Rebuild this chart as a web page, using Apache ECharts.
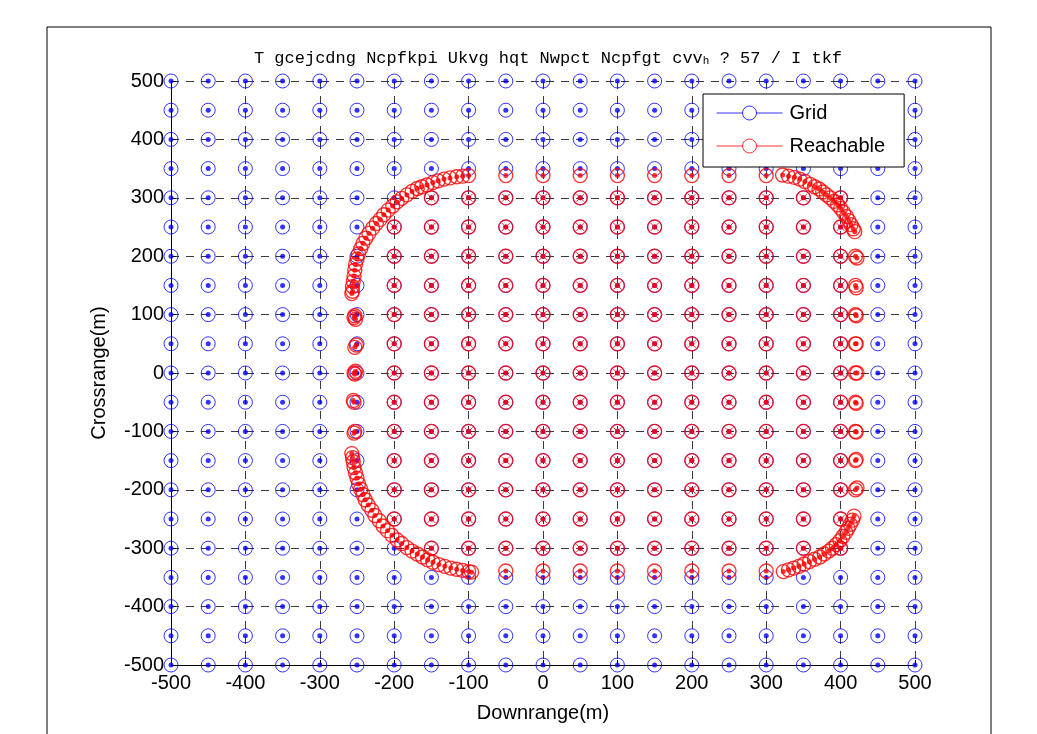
<!DOCTYPE html>
<html>
<head>
<meta charset="utf-8">
<script src="https://cdn.jsdelivr.net/npm/echarts@6/dist/echarts.min.js"></script>
<style>html,body{margin:0;padding:0;background:#fff;}#c{width:1037px;height:734px;}</style>
</head>
<body>
<div id="c"></div>
<script>
// ---- data ----
const gridValues = [-500,-450,-400,-350,-300,-250,-200,-150,-100,-50,0,50,100,150,200,250,300,350,400,450,500];
const axisTicks = [-500,-400,-300,-200,-100,0,100,200,300,400,500];

// interior reachable grid points, row by row
const reachRowY = [300,250,200,150,100,50,0,-50,-100,-150,-200,-250,-300];
const reachRowX = [
  [-150,-100,-50,0,50,100,150,200,250,300,350,400],
  [-200,-150,-100,-50,0,50,100,150,200,250,300,350,400],
  [-200,-150,-100,-50,0,50,100,150,200,250,300,350,400],
  [-200,-150,-100,-50,0,50,100,150,200,250,300,350,400],
  [-200,-150,-100,-50,0,50,100,150,200,250,300,350,400],
  [-200,-150,-100,-50,0,50,100,150,200,250,300,350,400],
  [-200,-150,-100,-50,0,50,100,150,200,250,300,350,400],
  [-200,-150,-100,-50,0,50,100,150,200,250,300,350,400],
  [-200,-150,-100,-50,0,50,100,150,200,250,300,350,400],
  [-200,-150,-100,-50,0,50,100,150,200,250,300,350,400],
  [-200,-150,-100,-50,0,50,100,150,200,250,300,350,400],
  [-200,-150,-100,-50,0,50,100,150,200,250,300,350,400],
  [-150,-100,-50,0,50,100,150,200,250,300,350,400]
];

// boundary points of the reachable set
const boundaryLeftTop = [[-100,338],[-108,337],[-116,336],[-125,334],[-133,332],[-141,329],[-148,326],[-156,322],[-163,319],[-169,316],[-176,311],[-183,305],[-190,299],[-196,293],[-202,286],[-208,279],[-214,271],[-219,263],[-224,256],[-229,248],[-234,239],[-238,231],[-242,222],[-245,213],[-248,204],[-250,195],[-252,186],[-253,176],[-254,166],[-255,157],[-256,148],[-256,140],[-257,136]];
const boundaryLeftSide = [[-253,98],[-252,92],[-254,95],[-251,48],[-253,44],[-252,3],[-253,-2],[-254,0],[-254,-50],[-255,-47],[-253,-100],[-254,-103]];
const boundaryLeftBottom = [[-257,-138],[-256,-145],[-255,-152],[-254,-162],[-252,-171],[-250,-180],[-248,-190],[-245,-199],[-242,-208],[-239,-217],[-235,-226],[-230,-235],[-226,-244],[-220,-253],[-215,-262],[-209,-270],[-203,-278],[-196,-286],[-190,-292],[-183,-299],[-176,-305],[-169,-310],[-162,-315],[-155,-320],[-148,-324],[-140,-328],[-132,-331],[-124,-334],[-116,-336],[-108,-338],[-100,-340],[-96,-341]];
const boundaryTop = [[-50,338],[0,338],[50,338],[100,338],[150,338],[200,338],[250,338],[300,338]];
const boundaryBottom = [[-50,-339],[0,-339],[50,-339],[100,-339],[150,-339],[200,-339],[250,-339],[300,-339]];
const boundaryRightTop = [[322,339],[330,337],[338,335],[345,332],[352,328],[359,323],[365,319],[371,315],[376,310],[381,305],[386,300],[391,294],[396,288],[400,282],[404,275],[408,268],[411,261],[414,254],[417,247],[419,242]];
const boundaryRightSide = [[420,200],[422,197],[420,150],[421,146],[420,100],[421,98],[420,50],[421,50],[420,0],[422,0],[420,-50],[421,-52],[420,-100],[421,-101],[420,-150],[421,-148],[420,-200],[422,-197]];
const boundaryRightBottom = [[418,-245],[416,-252],[413,-259],[410,-266],[407,-273],[403,-280],[399,-287],[394,-294],[389,-300],[384,-305],[378,-310],[372,-315],[365,-319],[358,-323],[351,-327],[344,-331],[337,-334],[330,-337],[323,-340]];

const titleText = 'T gcejcdng Ncpfkpi Ukvg hqt Nwpct Ncpfgt cvv{s|h} ? 57 / I tkf';
const xName = 'Downrange(m)';
const yName = 'Crossrange(m)';

// ---- build ----
const gridPts = [];
gridValues.forEach(y => gridValues.forEach(x => gridPts.push([x, y])));
const interiorPts = [];
reachRowY.forEach((y, i) => reachRowX[i].forEach(x => interiorPts.push([x, y])));
const boundaryPts = [].concat(boundaryLeftTop, boundaryLeftSide, boundaryLeftBottom, boundaryTop, boundaryBottom, boundaryRightTop, boundaryRightSide, boundaryRightBottom);
const reachPts = interiorPts.concat(boundaryPts);

const BLUE = '#0000ff', RED = '#ff0000';
const legendIcon = 'path://M0,7L26,7M40,7L66,7M26,7A7,7,0,1,1,40,7A7,7,0,1,1,26,7';
const xIcon = 'path://M0,0L10,10M10,0L0,10';

const chart = echarts.init(document.getElementById('c'), null, {renderer: 'canvas'});
const axisCommon = {
  type: 'value', min: -500, max: 500, interval: 100,
  axisLine: {show: true, onZero: false, lineStyle: {color: '#000', width: 1}},
  axisTick: {show: true, inside: true, length: 5, lineStyle: {color: '#000'}},
  axisLabel: {color: '#000', fontSize: 20, fontFamily: 'Liberation Sans'},
  splitLine: {show: true, showMinLine: true, showMaxLine: true, lineStyle: {color: '#3a3a3a', type: [8, 7], width: 1}},
  nameLocation: 'middle',
  nameTextStyle: {color: '#000', fontSize: 20, fontFamily: 'Liberation Sans'}
};
chart.setOption({
  animation: false,
  backgroundColor: '#fff',
  graphic: [{type: 'rect', shape: {x: 47, y: 27, width: 944, height: 740}, style: {fill: 'none', stroke: '#000', lineWidth: 1}, silent: true, z: -10}],
  title: {
    text: titleText, left: 543, top: 45, textAlign: 'center',
    textStyle: {fontFamily: 'Liberation Mono', fontSize: 17, fontWeight: 'normal', color: '#000',
      rich: {s: {fontFamily: 'Liberation Mono', fontSize: 11, verticalAlign: 'bottom', padding: [6, 0, 0, 0], color: '#000'}}}
  },
  legend: {
    orient: 'vertical', left: 703, top: 94,
    backgroundColor: '#fff', borderColor: '#000', borderWidth: 1, borderRadius: 0,
    padding: [9, 19, 11, 11], itemGap: 13, itemWidth: 66, itemHeight: 14,
    textStyle: {fontSize: 20, fontFamily: 'Liberation Sans', color: '#000', lineHeight: 20, padding: [0, 0, 0, 2]},
    data: [
      {name: 'Grid', icon: legendIcon, itemStyle: {color: 'none', borderColor: BLUE, borderWidth: 1}},
      {name: 'Reachable', icon: legendIcon, itemStyle: {color: 'none', borderColor: RED, borderWidth: 1}}
    ]
  },
  grid: {left: 171, right: 122, top: 81, bottom: 69, containLabel: false},
  xAxis: Object.assign({}, axisCommon, {name: xName, nameGap: 38, axisLabel: Object.assign({}, axisCommon.axisLabel, {margin: 8})}),
  yAxis: Object.assign({}, axisCommon, {name: yName, nameGap: 62, axisLabel: Object.assign({}, axisCommon.axisLabel, {margin: 7})}),
  series: [
    {name: 'Grid', type: 'scatter', data: gridPts, symbol: 'circle', symbolSize: 14, silent: true,
      itemStyle: {color: 'rgba(0,0,0,0)', borderColor: BLUE, borderWidth: 1}, z: 3},
    {name: 'gridDot', type: 'scatter', data: gridPts, symbol: 'circle', symbolSize: 5, silent: true,
      itemStyle: {color: BLUE}, z: 3},
    {name: 'Reachable', type: 'scatter', data: reachPts, symbol: 'circle', symbolSize: 14, silent: true,
      itemStyle: {color: 'rgba(0,0,0,0)', borderColor: RED, borderWidth: 1.35}, z: 4},
    {name: 'reachX', type: 'scatter', data: interiorPts, symbol: xIcon, symbolSize: 8, silent: true,
      itemStyle: {color: 'none', borderColor: RED, borderWidth: 1}, z: 4},
    {name: 'reachDot', type: 'scatter', data: reachPts, symbol: 'circle', symbolSize: 5, silent: true,
      itemStyle: {color: RED}, z: 4}
  ]
});
</script>
</body>
</html>
